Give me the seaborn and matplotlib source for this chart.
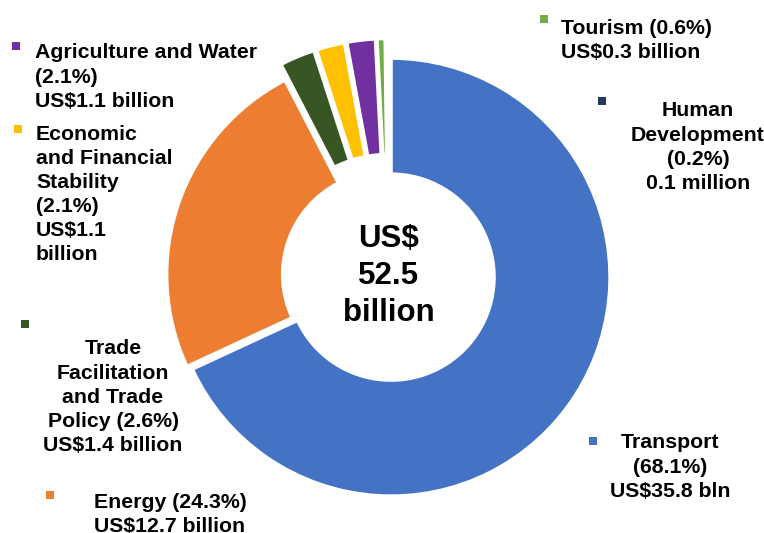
import matplotlib
matplotlib.use("Agg")
import matplotlib.pyplot as plt
import seaborn as sns

# ---- data ----
sectors = ["Transport", "Energy", "Trade Facilitation and Trade Policy",
           "Economic and Financial Stability", "Agriculture and Water",
           "Tourism", "Human Development"]
shares = [68.1, 24.3, 2.6, 2.1, 2.1, 0.6, 0.2]
colors = ["#4472C4", "#ED7D31", "#375623", "#FFC000", "#7030A0", "#70AD47", "#203864"]
labels = [
    "Transport\n(68.1%)\nUS$35.8 bln",
    "Energy (24.3%)\nUS$12.7 billion",
    "Trade\nFacilitation\nand Trade\nPolicy (2.6%)\nUS$1.4 billion",
    "Economic\nand Financial\nStability\n(2.1%)\nUS$1.1\nbillion",
    "Agriculture and Water\n(2.1%)\nUS$1.1 billion",
    "Tourism (0.6%)\nUS$0.3 billion",
    "Human\nDevelopment\n(0.2%)\n0.1 million",
]
center_label = "US$\n52.5\nbillion"

# ---- layout (pixel units, origin top-left) ----
W, H = 764, 533
CX, CY, R, RING = 388.5, 275.5, 219, 116
explode = [3, 3, 18, 18, 18, 18, 18]
# (text x, first baseline y, ha, square x, square y)
label_pos = [
    (670, 449, "center", 592.5, 440.5),
    (170, 508, "center", 49.5, 495),
    (113, 355, "center", 25, 324),
    (36, 140, "left", 18, 129),
    (35, 59, "left", 16, 46),
    (561, 34, "left", 543.5, 18.5),
    (698, 117, "center", 601.5, 101),
]

sns.set_theme(style="white")
plt.rcParams["font.family"] = ["Liberation Sans", "DejaVu Sans"]

fig = plt.figure(figsize=(W / 100, H / 100), dpi=100)
ax = fig.add_axes([0, 0, 1, 1])
ax.set_xlim(0, W)
ax.set_ylim(0, H)
ax.set_aspect("equal")
ax.axis("off")

ax.pie(shares, colors=colors, startangle=90, counterclock=False,
       radius=R, center=(CX, H - CY), explode=explode,
       wedgeprops=dict(width=RING, edgecolor="white", linewidth=2.5))
ax.set_xlim(0, W)
ax.set_ylim(0, H)

ax.text(CX, H - 276, center_label, ha="center", va="center",
        fontsize=22.5, fontweight="bold", color="black", linespacing=1.32)

for lab, col, (tx, ty, ha, sx, sy) in zip(labels, colors, label_pos):
    ax.text(tx, H - (ty - 15.5), lab, ha=ha, va="top", fontsize=15.3,
            fontweight="bold", color="black", linespacing=1.34,
            multialignment=ha)
    ax.scatter([sx], [H - sy], marker="s", s=30, color=col, linewidths=0)

fig.savefig("out.png", dpi=100)
